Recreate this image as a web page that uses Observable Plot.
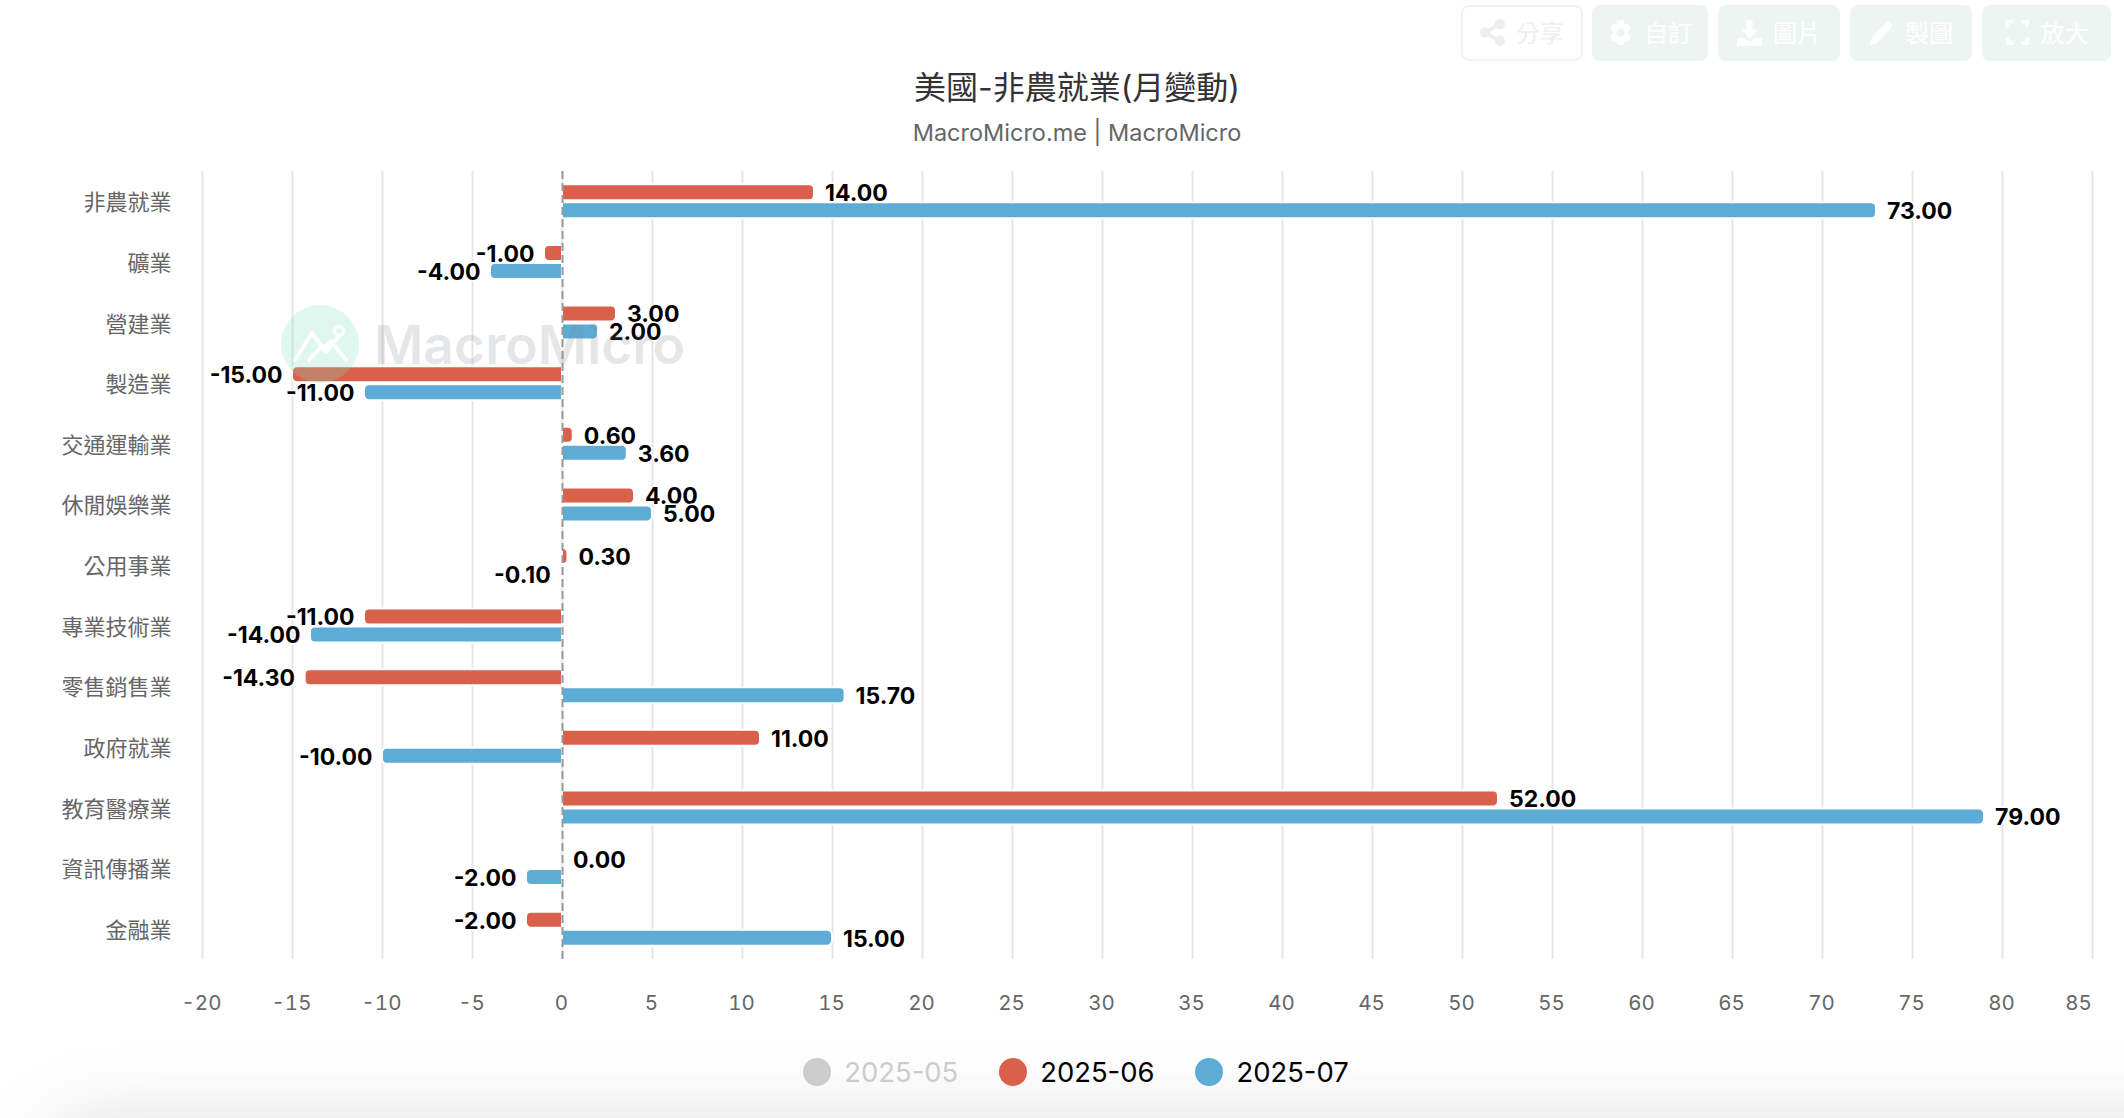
<!DOCTYPE html>
<html lang="zh-Hant">
<head>
<meta charset="utf-8">
<script src="https://cdn.jsdelivr.net/npm/d3@7"></script>
<script src="https://cdn.jsdelivr.net/npm/@observablehq/plot@0.6"></script>
<style>
  html,body{margin:0;padding:0;background:#fff;width:2124px;height:1118px;overflow:hidden;position:relative;
    font-family:Inter,"Noto Sans CJK TC",sans-serif;}
  #head{height:160px;position:relative;text-align:center;}
  #title{position:absolute;left:0;width:2154px;top:66px;font-size:32px;line-height:44px;color:#333;}
  #subtitle{position:absolute;left:0;width:2154px;top:117px;font-size:23.5px;line-height:32px;color:#666;}
  #chart svg{display:block;position:relative;z-index:1;}
  #legend{display:flex;justify-content:center;align-items:center;margin-left:28px;padding-top:39px;height:28px;position:relative;z-index:1;
    font-size:27.4px;}
  .li{display:flex;align-items:center;margin:0 20.5px;}
  .dot{width:28px;height:28px;border-radius:50%;margin-right:13px;}
  #wm{position:absolute;left:281px;top:305px;z-index:2;pointer-events:none;width:420px;height:78px;}
  #wm .c{position:absolute;left:0;top:0;width:78px;height:78px;}
  #wm .t{position:absolute;left:93px;top:6px;font-size:53.5px;line-height:68px;font-weight:600;color:rgba(120,130,140,.2);white-space:nowrap;}
  .btn{position:absolute;top:5px;height:56px;box-sizing:border-box;border-radius:8px;background:#edf5f2;color:#fff;font-size:24px;
    display:flex;align-items:center;justify-content:center;gap:11px;font-family:"Noto Sans CJK TC",sans-serif;}
  .btn span{position:relative;top:-2px;}
  .btn svg{width:25px;height:27px;fill:#fff;stroke:none;position:relative;top:-1px;}
  .btn.o{background:#fff;border:2px solid #f1f2f2;color:#eeeeee;}
  .btn.o svg{fill:#eeeeee;}
  #fade{position:absolute;left:60px;right:-120px;top:1132px;height:60px;box-shadow:0 0 80px 14px rgba(0,0,0,.13);border-radius:40px;z-index:0;}
</style>
</head>
<body>
<div id="fade"></div>
<div id="head">
  <div id="title">美國-非農就業(月變動)</div>
  <div id="subtitle">MacroMicro.me | MacroMicro</div>
</div>
<div id="chart"></div>
<div id="legend"></div>
<div id="wm">
  <svg class="c" viewBox="0 0 78 78">
    <circle cx="39" cy="39" r="39" fill="rgba(137,224,194,.26)"/>
    <path d="M14 55 L31 28 L45 47 L59 30 M28 55 L40 42 M42 44 L50 36 L65 55" fill="none" stroke="#fff" stroke-width="4" stroke-linecap="round" stroke-linejoin="round"/>
    <circle cx="58" cy="26" r="4.5" fill="none" stroke="#fff" stroke-width="3"/>
  </svg>
  <div class="t">MacroMicro</div>
</div>
<div id="btns"></div>
<script>
const categories = ["非農就業","礦業","營建業","製造業","交通運輸業","休閒娛樂業","公用事業","專業技術業","零售銷售業","政府就業","教育醫療業","資訊傳播業","金融業"];
const values0506 = [14, -1, 3, -15, 0.6, 4, 0.3, -11, -14.3, 11, 52, 0, -2];
const values0507 = [73, -4, 2, -11, 3.6, 5, -0.1, -14, 15.7, -10, 79, -2, 15];
const xTicks = [-20,-15,-10,-5,0,5,10,15,20,25,30,35,40,45,50,55,60,65,70,75,80,85];
const legendNames = ["2025-05","2025-06","2025-07"];
const legendColors = ["#cccccc","#d9614b","#5dacd6"];
const legendText = ["#cccccc","#000000","#000000"];
const buttonLabels = ["分享","自訂","圖片","製圖","放大"];

const BAR_INSET = 22.3, OFFSET = 9;
const series = [
  {values: values0506, fill: legendColors[1], dy: -OFFSET},
  {values: values0507, fill: legendColors[2], dy: OFFSET}
];
const axisXOptions = {tickFormat:d=>String(d), tickSize:0, tickPadding:36, fontSize:20.5, color:"#666", label:null, anchor:"bottom"};

const marks = [
  Plot.ruleX(xTicks, {stroke:"#e6e6e6", strokeWidth:2}),
  Plot.axisX({...axisXOptions, ticks:xTicks.slice(0,-1), dx:-1}),
  Plot.axisX({...axisXOptions, ticks:xTicks.slice(-1), dx:-14}),
  Plot.axisY({tickSize:0, tickPadding:31, fontSize:22, color:"#666", label:null, dy:1.5, anchor:"left"})
];
for (const s of series) {
  const rows = categories.map((c,i)=>({c, v:s.values[i]}));
  const common = {y:"c", insetTop:BAR_INSET, insetBottom:BAR_INSET, dy:s.dy, fill:s.fill, stroke:"#fff", strokeWidth:2};
  marks.push(Plot.barX(rows.filter(d=>d.v>0), {...common, x1:()=>0, x2:"v", rx2:5}));
  marks.push(Plot.barX(rows.filter(d=>d.v<0), {...common, x1:"v", x2:()=>0, rx1:5}));
}
marks.push(Plot.ruleX([0], {stroke:"#999", strokeWidth:2, strokeDasharray:"8,4"}));
for (const s of series) {
  const rows = categories.map((c,i)=>({c, v:s.values[i]}));
  const common = {y:"c", text:d=>d.v.toFixed(2), dy:s.dy+1, fill:"#000", stroke:"#fff", strokeWidth:3, fontSize:23, fontWeight:700};
  marks.push(Plot.text(rows.filter(d=>d.v>=0), {...common, x:"v", dx:10.5, textAnchor:"start"}));
  marks.push(Plot.text(rows.filter(d=>d.v<0), {...common, x:"v", dx:-10, textAnchor:"end"}));
}

const plot = Plot.plot({
  width:2124, height:859,
  marginTop:11, marginBottom:60, marginLeft:202, marginRight:32,
  style:{background:"transparent", fontFamily:'Inter,"Noto Sans CJK TC",sans-serif', overflow:"visible"},
  x:{domain:[-20,85], axis:null},
  y:{domain:categories, padding:0, round:false, axis:null},
  marks
});
document.getElementById("chart").appendChild(plot);

const legend = document.getElementById("legend");
legendNames.forEach((n,i)=>{
  const li = document.createElement("div"); li.className="li";
  li.innerHTML = `<span class="dot" style="background:${legendColors[i]}"></span><span style="color:${legendText[i]}">${n}</span>`;
  legend.appendChild(li);
});

const icons = [
  '<svg viewBox="0 0 24 26"><circle cx="19" cy="5" r="5"/><circle cx="19" cy="21" r="5"/><circle cx="5" cy="13" r="5"/><path d="M5 11 L19 3 V7 L8 13 L19 19 V23 L5 15Z"/></svg>',
  '<svg viewBox="0 0 24 26"><path fill-rule="evenodd" d="M9 1h6l1 4 3-1 3 5-3 3v2l3 3-3 5-3-1-1 4H9l-1-4-3 1-3-5 3-3v-2L2 9l3-5 3 1zM12 9a4 4 0 1 0 .01 0z"/></svg>',
  '<svg viewBox="0 0 24 26"><path d="M9 1h6v9h5l-8 9-8-9h5zM0 18h6l6 4 6-4h6v8H0z"/></svg>',
  '<svg viewBox="0 0 24 26"><path d="M18 1l5 5L8 23l-7 2 2-7z"/></svg>',
  '<svg viewBox="0 0 24 26"><path d="M1 1h7v3H4v4H1zM16 1h7v7h-3V4h-4zM1 18h3v4h4v3H1zM20 18h3v7h-7v-3h4z"/></svg>'
];
const spans = [[1461,122],[1592,116],[1718,122],[1850,122],[1982,129]];
buttonLabels.forEach((t,i)=>{
  const b = document.createElement("div");
  b.className = "btn" + (i===0 ? " o" : "");
  b.style.left = spans[i][0]+"px"; b.style.width = spans[i][1]+"px";
  b.innerHTML = icons[i] + `<span>${t}</span>`;
  document.getElementById("btns").appendChild(b);
});
</script>
</body>
</html>
